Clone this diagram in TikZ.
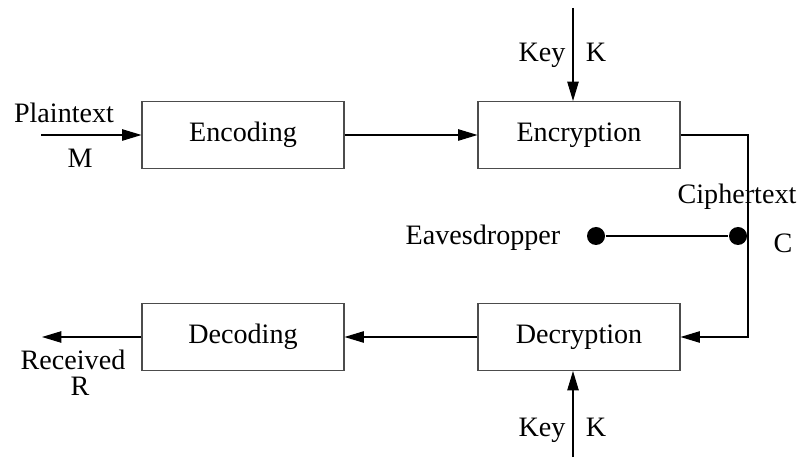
\documentclass[tikz,border=0pt]{standalone}
\usepackage{fontspec}
\setmainfont{Liberation Serif}
\usetikzlibrary{positioning, calc, arrows.meta}

\begin{document}
\begin{tikzpicture}[line width=0.6pt,
    every node/.style={font=\fontsize{16}{19}\selectfont},
    blk/.style={draw=black!70, minimum width=4.04cm, minimum height=1.34cm, inner sep=0pt},
    lbl/.style={inner sep=1pt, text height=1.5ex, text depth=0.3ex, yshift=-0.08cm},
    arr/.style={-{Triangle[length=11pt,width=6.5pt]}},
    pt/.style={circle, fill=black, inner sep=0pt, minimum size=0.36cm}]
    \useasboundingbox (0,0) rectangle (16.08,9.18);
    % blocchi
    \node[blk] (enc) at (4.86,6.48) {Encoding};
    \node[blk] (ency) at (11.58,6.48) {Encryption};
    \node[blk] (dec) at (4.86,2.44) {Decoding};
    \node[blk] (decy) at (11.58,2.44) {Decryption};
    % estremi
    \coordinate (pin) at (0.82,6.48);
    \coordinate (rout) at (0.84,2.44);
    \coordinate (ktop) at (11.46,9.02);
    \coordinate (kbot) at (11.46,0.04);
    \coordinate (cx) at (14.96,6.48);
    \node[pt] (tap) at (14.76,4.46) {};
    \node[pt] (eve) at (11.92,4.46) {};
    % frecce
    \draw[arr] (pin) -- (enc.west);
    \draw[arr] (enc.east) -- (ency.west);
    \draw[arr] (ktop) -- (ktop |- ency.north);
    \draw[arr] (ency.east) -- (cx) |- (decy.east);
    \draw[arr] (kbot) -- (kbot |- decy.south);
    \draw[arr] (decy.west) -- (dec.east);
    \draw[arr] (dec.west) -- (rout);
    \draw (eve) -- (tap);
    %label
    \node[lbl] at (1.28,6.9) {Plaintext};
    \node[lbl] at (1.6,6.0) {M};
    \node[lbl] at (10.84,8.12) {Key};
    \node[lbl] at (11.92,8.12) {K};
    \node[lbl] at (10.84,0.62) {Key};
    \node[lbl] at (11.92,0.62) {K};
    \node[lbl] at (14.74,5.28) {Ciphertext};
    \node[lbl] at (15.66,4.3) {C};
    \node[lbl] at (9.66,4.46) {Eavesdropper};
    \node[lbl] at (1.46,1.96) {Received};
    \node[lbl] at (1.6,1.44) {R};
\end{tikzpicture}
\end{document}
